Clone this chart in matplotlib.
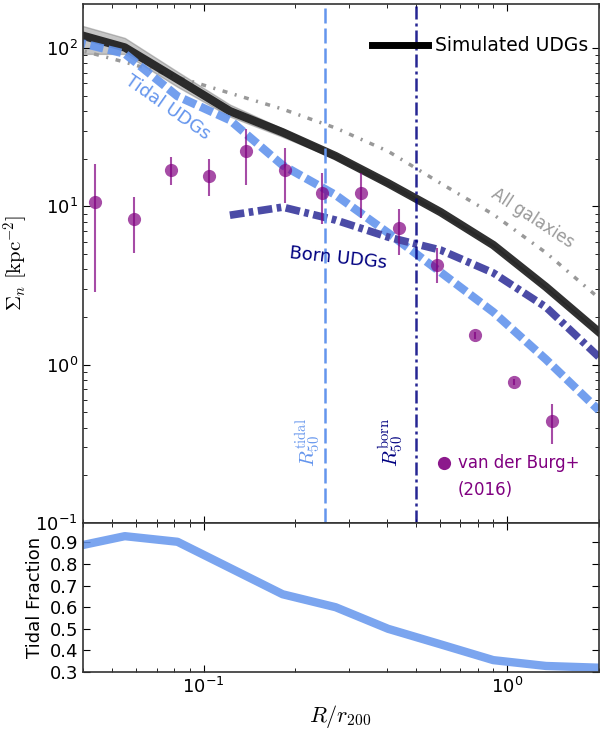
import numpy as np
import matplotlib
matplotlib.use('Agg')
from matplotlib import pyplot as plt

# radial bins (R/r200)
r_bins = [0.037, 0.055, 0.082, 0.122, 0.182, 0.272, 0.405, 0.603, 0.899, 1.34, 2.0]

# surface density profiles [kpc^-2]
sim_udgs = [125, 101, 63.7, 40.0, 29.4, 20.8, 14.0, 9.2, 5.7, 3.1, 1.61]
sim_hi = [144, 116, 71, 44, 31, 21.5, 14.3, 9.3, 5.75, 3.1, 1.61]
sim_lo = [92, 92, 57, 37, 27.5, 20, 13.6, 9.0, 5.6, 3.05, 1.6]
tidal_udgs = [111, 92.3, 49.7, 35.1, 18.2, 11.8, 6.8, 3.84, 2.15, 1.08, 0.516]
born_x = [0.122, 0.182, 0.272, 0.405, 0.603, 0.899, 1.34, 2.0]
born_udgs = [8.8, 9.9, 8.2, 6.4, 5.3, 3.8, 2.31, 1.12]
all_gal = [100, 81.6, 65.6, 52, 41.2, 31.3, 22.3, 14.0, 8.9, 5.1, 2.64]

# tidal fraction
tidal_frac = [0.878, 0.929, 0.903, 0.782, 0.66, 0.60, 0.50, 0.428, 0.355, 0.328, 0.32]

# van der Burg+ (2016)
vdb_x = [0.044, 0.059, 0.078, 0.104, 0.138, 0.185, 0.246, 0.329, 0.439, 0.586, 0.783, 1.05, 1.40]
vdb_y = [10.6, 8.3, 16.9, 15.5, 22.3, 16.9, 12.1, 12.1, 7.3, 4.26, 1.54, 0.776, 0.44]
vdb_hi = [18.5, 11.5, 20.5, 19.9, 30.8, 23.3, 16.2, 16.2, 9.6, 5.45, 1.62, 0.81, 0.564]
vdb_lo = [2.88, 5.1, 13.6, 11.6, 13.6, 10.5, 7.8, 8.4, 4.9, 3.27, 1.46, 0.74, 0.315]

# half-number radii
r50_tidal = 0.25
r50_born = 0.5

tidal_col = 'cornflowerblue'
born_col = '#4b4ba6'
vdb_col = 'purple'

plt.rcParams['xtick.direction'] = 'in'
plt.rcParams['ytick.direction'] = 'in'
plt.rcParams['xtick.top'] = True
plt.rcParams['ytick.right'] = True
plt.rcParams['xtick.major.size'] = 5
plt.rcParams['ytick.major.size'] = 5
plt.rcParams['xtick.minor.size'] = 3
plt.rcParams['ytick.minor.size'] = 3
plt.rcParams['axes.edgecolor'] = '#333333'
plt.rcParams['axes.linewidth'] = 1.2

fig = plt.figure(figsize=(6, 7.33), dpi=100)
ax = fig.add_axes([0.138, 0.2865, 0.86, 0.708])
ax2 = fig.add_axes([0.138, 0.0832, 0.86, 0.2033], sharex=ax)

# top panel
ax.fill_between(r_bins, sim_lo, sim_hi, color='gray', alpha=0.45, edgecolor='#777777', lw=1)
ax.plot(r_bins, all_gal, color='#999999', lw=2.5, ls=(0, (1.44, 2.2, 0.58, 2.2)))
ax.plot(r_bins, sim_udgs, color='#1a1a1a', lw=6, alpha=0.9)
ax.plot(r_bins, tidal_udgs, color=tidal_col, lw=6, alpha=0.9, ls=(0, (1.6, 0.6)))
ax.plot(born_x, born_udgs, color=born_col, lw=5.5, ls=(0, (1.9, 0.6, 0.6, 0.6)))

yerr = [np.array(vdb_y) - np.array(vdb_lo), np.array(vdb_hi) - np.array(vdb_y)]
ax.errorbar(vdb_x, vdb_y, yerr=yerr, fmt='o', color=vdb_col, ms=9.5, mec='none',
            alpha=0.7, elinewidth=1.5, capsize=0)

ax.axvline(r50_tidal, color=tidal_col, lw=1.8, ls=(0, (6, 2)))
ax.axvline(r50_born, color='navy', lw=1.8, alpha=0.85, ls=(0, (5.2, 1.6, 1.2, 1.6)))

ax.set_xscale('log')
ax.set_yscale('log')
ax.set_xlim(0.04, 2.0)
ax.set_ylim(0.1, 190)
ax.set_ylabel(r'$\Sigma_n\ [\mathrm{kpc}^{-2}]$', fontsize=15, math_fontfamily='cm')
ax.tick_params(labelbottom=False, labelsize=13)

# labels on the curves
ax.text(0.165, 0.80, 'Tidal UDGs', color=tidal_col, fontsize=13, rotation=-35,
        ha='center', va='center', transform=ax.transAxes)
ax.text(0.494, 0.511, 'Born UDGs', color='navy', fontsize=13, rotation=-6,
        ha='center', va='center', transform=ax.transAxes)
ax.text(0.872, 0.588, 'All galaxies', color='#999999', fontsize=12, rotation=-33,
        ha='center', va='center', transform=ax.transAxes)
ax.plot([0.56, 0.669], [0.921, 0.921], color='black', lw=5, transform=ax.transAxes)
ax.text(0.682, 0.921, 'Simulated UDGs', color='black', fontsize=13.5,
        ha='left', va='center', transform=ax.transAxes)
ax.text(0.436, 0.156, r'$R_{50}^{\rm tidal}$', color=tidal_col, fontsize=15, rotation=90,
        ha='center', va='center', transform=ax.transAxes, math_fontfamily='cm')
ax.text(0.597, 0.156, r'$R_{50}^{\rm born}$', color='navy', fontsize=15, rotation=90,
        ha='center', va='center', transform=ax.transAxes, math_fontfamily='cm')
ax.plot([0.70], [0.116], 'o', color=vdb_col, ms=9.5, mec='none', alpha=0.9, transform=ax.transAxes)
ax.text(0.727, 0.116, 'van der Burg+', color=vdb_col, fontsize=12,
        ha='left', va='center', transform=ax.transAxes)
ax.text(0.727, 0.064, '(2016)', color=vdb_col, fontsize=12,
        ha='left', va='center', transform=ax.transAxes)

# bottom panel
ax2.plot(r_bins, tidal_frac, color=tidal_col, lw=6, alpha=0.85)
ax2.set_ylim(0.3, 0.99)
ax2.set_yticks([0.3, 0.4, 0.5, 0.6, 0.7, 0.8, 0.9])
ax2.set_ylabel('Tidal Fraction', fontsize=13)
ax2.set_xlabel(r'$R/r_{200}$', fontsize=16, math_fontfamily='cm')
ax2.tick_params(labelsize=13)

plt.savefig('out.png', dpi=100)
